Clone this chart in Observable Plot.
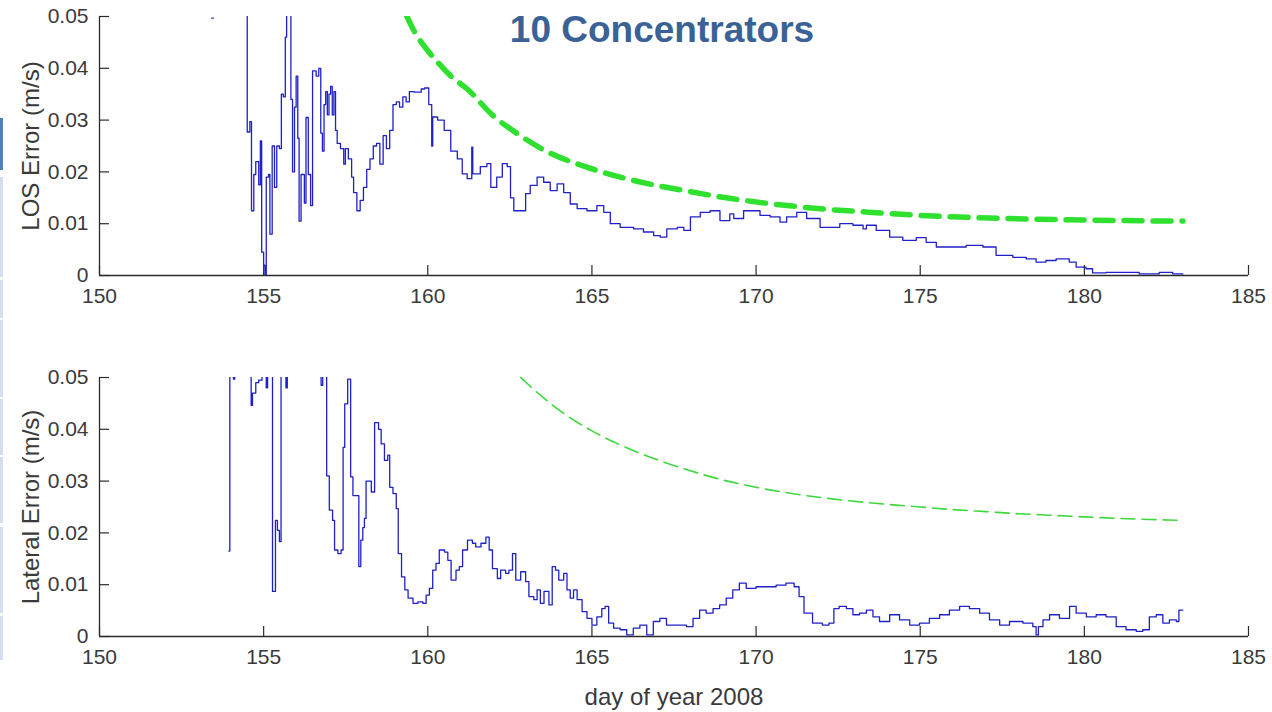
<!DOCTYPE html>
<html><head><meta charset="utf-8">
<script src="https://cdn.jsdelivr.net/npm/d3@7"></script>
<script src="https://cdn.jsdelivr.net/npm/@observablehq/plot@0.6"></script>
<style>
body{margin:0;background:#fff;}
#wrap{position:relative;width:1272px;height:712px;overflow:hidden;background:#fff;font-family:"Liberation Sans",Arial,sans-serif;}
.panel{position:absolute;left:0;}
#title{position:absolute;left:0;width:1324px;text-align:center;top:9px;font:bold 37px "Liberation Sans",Arial,sans-serif;color:#3a6296;z-index:5;}
.bar{position:absolute;left:0;width:3px;}
</style></head>
<body>
<div id="wrap">
  <div id="title">10 Concentrators</div>
  <div class="bar" style="top:118px;height:52px;background:#4f81bd"></div>
  <div class="bar" style="top:177px;height:100px;background:#d3deef"></div>
  <div class="bar" style="top:280px;height:38px;background:#d3deef"></div>
  <div class="bar" style="top:320px;height:77px;background:#d3deef"></div>
  <div class="bar" style="top:399px;height:56px;background:#d3deef"></div>
  <div class="bar" style="top:457px;height:66px;background:#d3deef"></div>
  <div class="bar" style="top:527px;height:86px;background:#d3deef"></div>
  <div class="bar" style="top:616px;height:44px;background:#d3deef"></div>
  <div id="top" class="panel" style="top:0"></div>
  <div id="bottom" class="panel" style="top:340px"></div>
</div>
<script>
const xTicks = [150, 155, 160, 165, 170, 175, 180, 185];
const yTicks = [0, 0.01, 0.02, 0.03, 0.04, 0.05];
const topLabel = "LOS Error (m/s)";
const bottomLabel = "Lateral Error (m/s)";
const xLabel = "day of year 2008";

// LOS error (blue, step) [day, m/s]; values above 0.05 are clipped off the top
const losBlue = [
  [153.42,0.0497],[153.47,0.0497],[153.48,NaN],
  [154.48,0.07],[154.5,0.0277],[154.58,0.0297],[154.63,0.0125],[154.7,0.0195],[154.76,0.022],[154.85,0.0175],
  [154.9,0.026],[154.94,0.0045],[155.0,0.002],[155.04,0],[155.08,0.019],[155.15,0.0195],[155.19,0.008],
  [155.26,0.025],[155.33,0.017],[155.4,0.025],[155.48,0.0245],[155.54,0.035],[155.6,0.0345],[155.66,0.046],
  [155.7,0.06],[155.83,0.034],[155.88,0.020],[155.94,0.0325],[155.99,0.0385],[156.04,0.0265],[156.08,0.0105],
  [156.14,0.0195],[156.24,0.014],[156.29,0.0305],[156.36,0.0195],[156.43,0.0135],[156.49,0.0395],[156.6,0.0385],
  [156.68,0.040],[156.74,0.0275],[156.79,0.024],[156.84,0.033],[156.89,0.0355],[156.94,0.031],[156.99,0.035],
  [157.04,0.0365],[157.09,0.031],[157.14,0.0355],[157.19,0.028],[157.24,0.0255],[157.34,0.0245],[157.44,0.0215],
  [157.49,0.0245],[157.58,0.0225],[157.68,0.019],[157.74,0.016],[157.84,0.0125],[157.94,0.0145],[158.04,0.017],
  [158.14,0.0205],[158.24,0.0225],[158.34,0.025],[158.44,0.0255],[158.54,0.0215],[158.64,0.027],[158.74,0.0245],
  [158.84,0.028],[158.94,0.033],[159.04,0.0335],[159.14,0.0325],[159.24,0.0345],[159.34,0.0335],[159.44,0.0355],
  [159.59,0.0354],[159.8,0.036],[159.9,0.0362],[160.03,0.033],[160.12,0.025],[160.15,0.0306],[160.3,0.030],
  [160.5,0.028],[160.7,0.024],[160.9,0.0225],[161.05,0.0196],[161.2,0.0187],[161.34,0.0248],[161.37,0.0196],
  [161.6,0.021],[161.8,0.0216],[161.92,0.017],[162.1,0.019],[162.27,0.0216],[162.42,0.021],[162.52,0.015],
  [162.62,0.0125],[162.98,0.0158],[163.12,0.0174],[163.33,0.019],[163.53,0.018],[163.73,0.0164],[163.94,0.0177],
  [164.14,0.016],[164.34,0.0138],[164.55,0.0129],[164.85,0.0125],[165.15,0.0135],[165.36,0.0122],[165.56,0.010],
  [165.86,0.0093],[166.27,0.009],[166.57,0.0084],[166.88,0.0077],[167.08,0.0074],[167.28,0.009],[167.6,0.0093],
  [167.8,0.0087],[168.0,0.0113],[168.3,0.0122],[168.6,0.0125],[168.9,0.0106],[169.2,0.0119],[169.32,0.011],
  [169.62,0.0125],[170.12,0.0116],[170.43,0.0113],[170.73,0.0103],[170.93,0.0113],[171.24,0.0122],[171.54,0.011],
  [171.95,0.0093],[172.55,0.010],[172.95,0.0097],[173.26,0.009],[173.36,0.0097],[173.66,0.0087],[174.07,0.0074],
  [174.47,0.0068],[174.88,0.0073],[175.18,0.0064],[175.49,0.0055],[176.40,0.0058],[176.91,0.0055],[177.31,0.0039],
  [177.82,0.0035],[178.23,0.0032],[178.53,0.0026],[178.83,0.0029],[179.14,0.0032],[179.54,0.0026],[179.75,0.0016],
  [180.05,0.0013],[180.25,0.0005],[180.66,0.0006],[181.17,0.0006],[181.67,0.0003],[182.28,0.0006],[182.69,0.0003],
  [183.0,0.0003]
];

// LOS error bound (green dashed)
const losGreen = [
  [159.35,0.0502],[159.6,0.047],[160.0,0.0434],[160.4,0.0405],[160.7,0.0385],[161.2,0.036],[162.0,0.0308],
  [162.7,0.0275],[163.7,0.0237],[164.8,0.021],[166.3,0.0183],[167.8,0.0164],[169.3,0.0148],[170.8,0.0136],
  [172.3,0.0127],[173.0,0.0124],[175.0,0.0116],[177.1,0.0111],[179.1,0.0108],[181.2,0.0106],[183.0,0.0105]
];

// Lateral error (blue, step)
const latBlue = [
  [153.94,0.0165],[153.97,0.07],[154.08,0.0497],[154.12,0.07],[154.62,0.0446],[154.66,0.047],[154.76,0.049],
  [154.85,0.0495],[154.95,0.07],[155.08,0.048],[155.12,0.07],[155.27,0.0087],[155.36,0.0224],[155.42,0.0205],
  [155.48,0.0183],[155.53,0.07],[155.68,0.048],[155.72,0.07],[156.75,0.0485],[156.8,0.07],[156.92,0.031],
  [157.0,0.0244],[157.1,0.0224],[157.16,0.0167],[157.26,0.016],[157.36,0.0167],[157.42,0.0365],[157.47,0.0449],
  [157.56,0.0497],[157.65,0.0308],[157.72,0.0272],[157.9,0.0135],[157.96,0.0186],[158.02,0.021],[158.07,0.0228],
  [158.12,0.030],[158.28,0.0279],[158.38,0.0413],[158.5,0.040],[158.58,0.0372],[158.68,0.034],[158.78,0.035],
  [158.84,0.0288],[158.94,0.0276],[159.04,0.0247],[159.1,0.016],[159.2,0.0115],[159.3,0.009],[159.4,0.0074],
  [159.55,0.0064],[159.7,0.0067],[159.85,0.0064],[159.95,0.008],[160.05,0.0093],[160.15,0.0128],[160.25,0.0141],
  [160.35,0.0167],[160.51,0.0163],[160.61,0.0147],[160.71,0.0109],[160.86,0.0128],[160.96,0.0135],[161.06,0.0167],
  [161.21,0.0186],[161.36,0.018],[161.46,0.0173],[161.62,0.018],[161.77,0.0192],[161.87,0.0167],[161.97,0.0131],
  [162.12,0.0112],[162.22,0.0128],[162.37,0.0122],[162.47,0.0128],[162.58,0.016],[162.68,0.0109],[162.83,0.0125],
  [162.98,0.0106],[163.08,0.0077],[163.23,0.0071],[163.33,0.009],[163.43,0.0064],[163.54,0.0087],[163.69,0.0061],
  [163.79,0.0135],[163.89,0.0128],[163.99,0.0109],[164.14,0.0122],[164.24,0.009],[164.34,0.0074],[164.44,0.009],
  [164.55,0.0071],[164.70,0.0048],[164.85,0.0035],[165.0,0.0022],[165.15,0.0038],[165.30,0.0054],[165.40,0.0058],
  [165.51,0.0026],[165.66,0.0016],[165.86,0.0013],[166.06,0.0003],[166.26,0.0016],[166.46,0.0022],[166.67,0.0003],
  [166.87,0.0029],[167.07,0.0035],[167.27,0.0022],[167.58,0.0022],[167.88,0.0019],[168.08,0.0035],[168.28,0.0051],
  [168.48,0.0045],[168.69,0.0054],[168.89,0.0061],[169.09,0.0074],[169.29,0.009],[169.49,0.0103],[169.70,0.0093],
  [170.0,0.0096],[170.3,0.0096],[170.61,0.0099],[170.91,0.0103],[171.16,0.0096],[171.31,0.0077],[171.46,0.0045],
  [171.72,0.0026],[172.02,0.0022],[172.22,0.0026],[172.37,0.0054],[172.53,0.0058],[172.75,0.0054],[172.95,0.0042],
  [173.15,0.0045],[173.36,0.0051],[173.56,0.0038],[173.76,0.0029],[174.07,0.0042],[174.37,0.0032],[174.68,0.0022],
  [174.98,0.0026],[175.28,0.0035],[175.59,0.0042],[175.89,0.0051],[176.20,0.0058],[176.50,0.0054],[176.81,0.0045],
  [177.11,0.0032],[177.42,0.0022],[177.72,0.0029],[178.13,0.0026],[178.43,0.0019],[178.53,0.0003],[178.6,0.0019],
  [178.74,0.0032],[178.94,0.0042],[179.24,0.0035],[179.55,0.0058],[179.75,0.0045],[180.06,0.0038],[180.36,0.0042],
  [180.66,0.0038],[180.97,0.0019],[181.27,0.0013],[181.58,0.001],[181.78,0.0013],[181.98,0.0038],[182.19,0.0042],
  [182.39,0.0026],[182.59,0.0032],[182.80,0.0029],[182.88,0.0051],[183.0,0.0051]
];

// Lateral error bound (green dashed)
const latGreen = [
  [162.83,0.05],[163.5,0.0462],[164.2,0.0428],[165.0,0.0397],[166.0,0.0366],[167.0,0.0341],[168.0,0.0320],
  [169.0,0.0302],[170.0,0.0288],[171.0,0.0277],[172.0,0.0268],[173.0,0.0261],[174.0,0.0255],[175.0,0.0250],
  [176.0,0.0245],[177.0,0.0241],[178.0,0.0237],[179.0,0.0234],[180.0,0.0231],[181.0,0.0228],[182.0,0.0226],
  [183.0,0.0224]
];

const axisColor = "#2b2b2b";
const textColor = "#3a3a3a";
const yFormat = d3.format("~g");

function panel({blue, green, greenWidth, greenDash, greenColor, label, height, mt, mb, xlabel}) {
  const marks = [
    Plot.axisX({ticks: xTicks, tickSize: 0, tickPadding: 13, label: null, fill: textColor}),
    Plot.axisY({ticks: yTicks, tickSize: 0, tickPadding: 11, tickFormat: yFormat, label: null, fill: textColor}),
    // inward-pointing tick marks (MATLAB style)
    Plot.ruleX(xTicks, {x: d => d, y1: 0, y2: 0, insetTop: -10, stroke: axisColor, strokeWidth: 1.2}),
    Plot.ruleY(yTicks, {y: d => d, x1: 150, x2: 150, insetRight: -10, stroke: axisColor, strokeWidth: 1.2}),
    Plot.ruleY([0], {stroke: axisColor, strokeWidth: 1.3}),
    Plot.ruleX([150], {stroke: axisColor, strokeWidth: 1.3}),
    Plot.text([label], {text: d => d, frameAnchor: "left", textAnchor: "middle", lineAnchor: "middle",
      rotate: -90, dx: -68, fontSize: 24, fill: textColor}),
    Plot.line(green, {x: d => d[0], y: d => d[1], stroke: greenColor, strokeWidth: greenWidth,
      strokeDasharray: greenDash, curve: "monotone-x", clip: true}),
    Plot.line(blue, {x: d => d[0], y: d => d[1], stroke: "#2020c8", strokeWidth: 1.3,
      curve: "step-after", clip: true})
  ];
  if (xlabel) marks.push(Plot.text([xlabel], {text: d => d, frameAnchor: "bottom", textAnchor: "middle",
    lineAnchor: "middle", dy: 61, fontSize: 24, fill: textColor}));
  return Plot.plot({
    width: 1272, height, marginLeft: 99, marginRight: 24, marginTop: mt, marginBottom: mb,
    style: {fontFamily: "Liberation Sans, Arial, sans-serif", fontSize: "21px", background: "transparent", overflow: "visible"},
    x: {domain: [150, 185]},
    y: {domain: [0, 0.05]},
    marks
  });
}

document.getElementById("top").appendChild(panel({
  blue: losBlue, green: losGreen, greenWidth: 5.5, greenDash: "18,11", greenColor: "#2fe02f",
  label: topLabel, height: 335, mt: 16, mb: 60
}));
document.getElementById("bottom").appendChild(panel({
  blue: latBlue, green: latGreen, greenWidth: 1.6, greenDash: "14,7", greenColor: "#3cd83c",
  label: bottomLabel, height: 372, mt: 37, mb: 76, xlabel: xLabel
}));
</script>
</body></html>
